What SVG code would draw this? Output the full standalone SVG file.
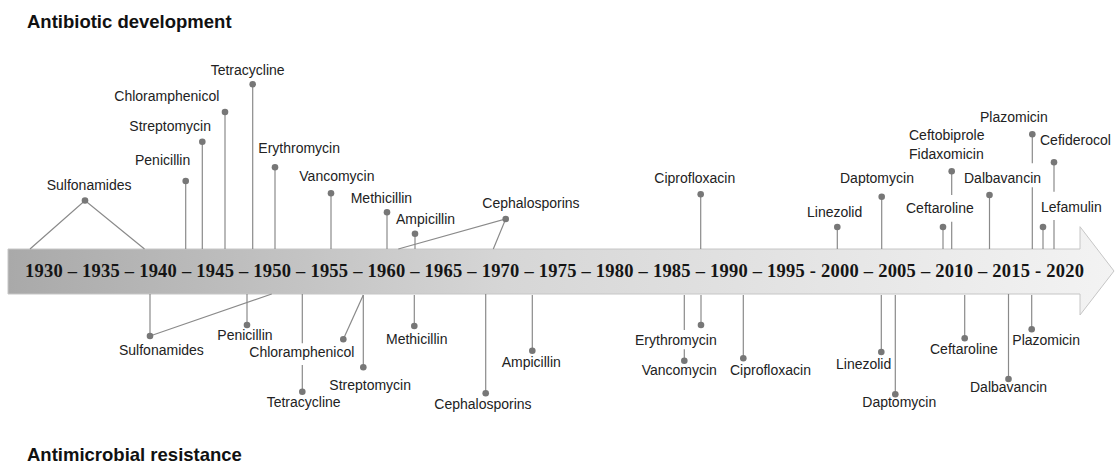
<svg xmlns="http://www.w3.org/2000/svg" width="1115" height="464" viewBox="0 0 1115 464">
<style>
.t{font-family:"Liberation Sans",Arial,sans-serif;font-size:14px;fill:#222}
.h{font-family:"Liberation Sans",Arial,sans-serif;font-size:18.5px;font-weight:bold;fill:#111}
.y{font-family:"Liberation Serif","Times New Roman",serif;font-size:18.5px;font-weight:bold;fill:#151515}
.c line,.c polyline{stroke:#8a8a8a;stroke-width:1.2;fill:none}
.d{fill:#777}
</style>
<defs>
<linearGradient id="g" x1="8" y1="0" x2="1114" y2="0" gradientUnits="userSpaceOnUse">
<stop offset="0" stop-color="#a9a9a9"/>
<stop offset="0.45" stop-color="#d6d6d6"/>
<stop offset="1" stop-color="#f3f3f3"/>
</linearGradient>
</defs>
<rect width="1115" height="464" fill="#fff"/>
<text class="h" x="27" y="28">Antibiotic development</text>
<text class="h" x="27" y="460.5">Antimicrobial resistance</text>
<g id="timeline">
<polygon points="8,249 1080,249 1080,226.7 1114,271 1080,315 1080,294 8,294" fill="url(#g)" stroke="#c6c6c6" stroke-width="1"/>
<text class="y" x="25" y="277" textLength="1059" lengthAdjust="spacing">1930 – 1935 – 1940 – 1945 – 1950 – 1955 – 1960 – 1965 – 1970 – 1975 – 1980 – 1985 – 1990 – 1995 - 2000 – 2005 – 2010 – 2015 - 2020</text>
</g>
<g id="connectors" class="c">
<polyline points="30,249 85,200.5 144.5,249"/>
<line x1="185.7" y1="181" x2="185.7" y2="249"/>
<line x1="202.3" y1="141.7" x2="202.3" y2="249"/>
<line x1="225" y1="112" x2="225" y2="249"/>
<line x1="252.7" y1="84.3" x2="252.7" y2="249"/>
<line x1="275" y1="167.3" x2="275" y2="249"/>
<line x1="331" y1="193.3" x2="331" y2="249"/>
<line x1="387" y1="212.3" x2="387" y2="249"/>
<line x1="415" y1="233.7" x2="415" y2="249"/>
<polyline points="398.3,249 505.7,219 493.3,249"/>
<line x1="700.7" y1="194.3" x2="700.7" y2="249"/>
<line x1="837.3" y1="227" x2="837.3" y2="249"/>
<line x1="881.7" y1="196.7" x2="881.7" y2="249"/>
<line x1="943" y1="227" x2="943" y2="249"/>
<line x1="951.7" y1="171.3" x2="951.7" y2="195"/>
<line x1="951.7" y1="221.7" x2="951.7" y2="249"/>
<line x1="989.5" y1="195" x2="989.5" y2="249"/>
<line x1="1032.3" y1="134.3" x2="1032.3" y2="163.3"/>
<line x1="1032.3" y1="187.3" x2="1032.3" y2="249"/>
<line x1="1054" y1="162.3" x2="1054" y2="191.7"/>
<line x1="1054" y1="220" x2="1054" y2="249"/>
<line x1="1043" y1="227" x2="1043" y2="249"/>
<polyline points="150,294 150,336 271.7,294"/>
<line x1="247" y1="294" x2="247" y2="325"/>
<line x1="302.3" y1="294" x2="302.3" y2="343.3"/>
<line x1="302.3" y1="365" x2="302.3" y2="391.7"/>
<line x1="363.3" y1="295" x2="343.3" y2="339.3"/>
<line x1="363.3" y1="295" x2="363.3" y2="367.3"/>
<line x1="414.3" y1="295" x2="414.3" y2="326"/>
<line x1="532.3" y1="295" x2="532.3" y2="350.7"/>
<line x1="485.7" y1="294" x2="485.7" y2="393.3"/>
<line x1="701" y1="295" x2="701" y2="325"/>
<line x1="684.3" y1="295" x2="684.3" y2="330"/>
<line x1="684.3" y1="349.3" x2="684.3" y2="360.7"/>
<line x1="743.3" y1="295" x2="743.3" y2="358.3"/>
<line x1="881.3" y1="295" x2="881.3" y2="352"/>
<line x1="895.3" y1="295" x2="895.3" y2="394.3"/>
<line x1="964.7" y1="295" x2="964.7" y2="338.3"/>
<line x1="1008.5" y1="294" x2="1008.5" y2="379"/>
<line x1="1031.7" y1="295" x2="1031.7" y2="329.3"/>
</g>
<g id="top-sulfonamides"><circle class="d" cx="85" cy="200.5" r="3.3"/><text class="t" x="46.7" y="190">Sulfonamides</text></g>
<g id="top-penicillin"><circle class="d" cx="185.7" cy="181" r="3.3"/><text class="t" x="135" y="165">Penicillin</text></g>
<g id="top-streptomycin"><circle class="d" cx="202.3" cy="141.7" r="3.3"/><text class="t" x="129.3" y="131">Streptomycin</text></g>
<g id="top-chloramphenicol"><circle class="d" cx="225" cy="112" r="3.3"/><text class="t" x="114.3" y="100.7">Chloramphenicol</text></g>
<g id="top-tetracycline"><circle class="d" cx="252.7" cy="84.3" r="3.3"/><text class="t" x="210.7" y="75">Tetracycline</text></g>
<g id="top-erythromycin"><circle class="d" cx="275" cy="167.3" r="3.3"/><text class="t" x="258.3" y="153.3">Erythromycin</text></g>
<g id="top-vancomycin"><circle class="d" cx="331" cy="193.3" r="3.3"/><text class="t" x="299.3" y="181">Vancomycin</text></g>
<g id="top-methicillin"><circle class="d" cx="387" cy="212.3" r="3.3"/><text class="t" x="350.7" y="203.3">Methicillin</text></g>
<g id="top-ampicillin"><circle class="d" cx="415" cy="233.7" r="3.3"/><text class="t" x="396" y="224">Ampicillin</text></g>
<g id="top-cephalosporins"><circle class="d" cx="505.7" cy="219" r="3.3"/><text class="t" x="482.3" y="208.3">Cephalosporins</text></g>
<g id="top-ciprofloxacin"><circle class="d" cx="700.7" cy="194.3" r="3.3"/><text class="t" x="654.3" y="183.3">Ciprofloxacin</text></g>
<g id="top-linezolid"><circle class="d" cx="837.3" cy="227" r="3.3"/><text class="t" x="807" y="217.3">Linezolid</text></g>
<g id="top-daptomycin"><circle class="d" cx="881.7" cy="196.7" r="3.3"/><text class="t" x="840" y="183.3">Daptomycin</text></g>
<g id="top-ceftaroline"><circle class="d" cx="943" cy="227" r="3.3"/><text class="t" x="906" y="213.3">Ceftaroline</text></g>
<g id="top-ceftobiprole-fidaxomicin"><circle class="d" cx="951.7" cy="171.3" r="3.3"/><text class="t" x="909" y="140">Ceftobiprole</text><text class="t" x="909" y="159.3">Fidaxomicin</text></g>
<g id="top-dalbavancin"><circle class="d" cx="989.5" cy="195" r="3.3"/><text class="t" x="964" y="182.7">Dalbavancin</text></g>
<g id="top-plazomicin"><circle class="d" cx="1032.3" cy="134.3" r="3.3"/><text class="t" x="980" y="121.7">Plazomicin</text></g>
<g id="top-cefiderocol"><circle class="d" cx="1054" cy="162.3" r="3.3"/><text class="t" x="1040" y="145">Cefiderocol</text></g>
<g id="top-lefamulin"><circle class="d" cx="1043" cy="227" r="3.3"/><text class="t" x="1041" y="211.7">Lefamulin</text></g>
<g id="bot-sulfonamides"><circle class="d" cx="150" cy="336" r="3.3"/><text class="t" x="119" y="355">Sulfonamides</text></g>
<g id="bot-penicillin"><circle class="d" cx="247" cy="325" r="3.3"/><text class="t" x="217.3" y="340">Penicillin</text></g>
<g id="bot-tetracycline"><circle class="d" cx="302.3" cy="391.7" r="3.3"/><text class="t" x="266.7" y="407.3">Tetracycline</text></g>
<g id="bot-chloramphenicol"><circle class="d" cx="343.3" cy="339.3" r="3.3"/><text class="t" x="249.3" y="356.7">Chloramphenicol</text></g>
<g id="bot-streptomycin"><circle class="d" cx="363.3" cy="367.3" r="3.3"/><text class="t" x="329.3" y="390">Streptomycin</text></g>
<g id="bot-methicillin"><circle class="d" cx="414.3" cy="326" r="3.3"/><text class="t" x="386" y="344">Methicillin</text></g>
<g id="bot-ampicillin"><circle class="d" cx="532.3" cy="350.7" r="3.3"/><text class="t" x="501.7" y="367.3">Ampicillin</text></g>
<g id="bot-cephalosporins"><circle class="d" cx="485.7" cy="393.3" r="3.3"/><text class="t" x="434.3" y="409.3">Cephalosporins</text></g>
<g id="bot-erythromycin"><circle class="d" cx="701" cy="325" r="3.3"/><text class="t" x="635" y="345">Erythromycin</text></g>
<g id="bot-vancomycin"><circle class="d" cx="684.3" cy="360.7" r="3.3"/><text class="t" x="641.7" y="375">Vancomycin</text></g>
<g id="bot-ciprofloxacin"><circle class="d" cx="743.3" cy="358.3" r="3.3"/><text class="t" x="730" y="375">Ciprofloxacin</text></g>
<g id="bot-linezolid"><circle class="d" cx="881.3" cy="352" r="3.3"/><text class="t" x="836" y="369">Linezolid</text></g>
<g id="bot-daptomycin"><circle class="d" cx="895.3" cy="394.3" r="3.3"/><text class="t" x="862.3" y="407.3">Daptomycin</text></g>
<g id="bot-ceftaroline"><circle class="d" cx="964.7" cy="338.3" r="3.3"/><text class="t" x="930" y="354">Ceftaroline</text></g>
<g id="bot-dalbavancin"><circle class="d" cx="1008.5" cy="379" r="3.3"/><text class="t" x="970" y="391.7">Dalbavancin</text></g>
<g id="bot-plazomicin"><circle class="d" cx="1031.7" cy="329.3" r="3.3"/><text class="t" x="1012.3" y="345">Plazomicin</text></g>
</svg>
